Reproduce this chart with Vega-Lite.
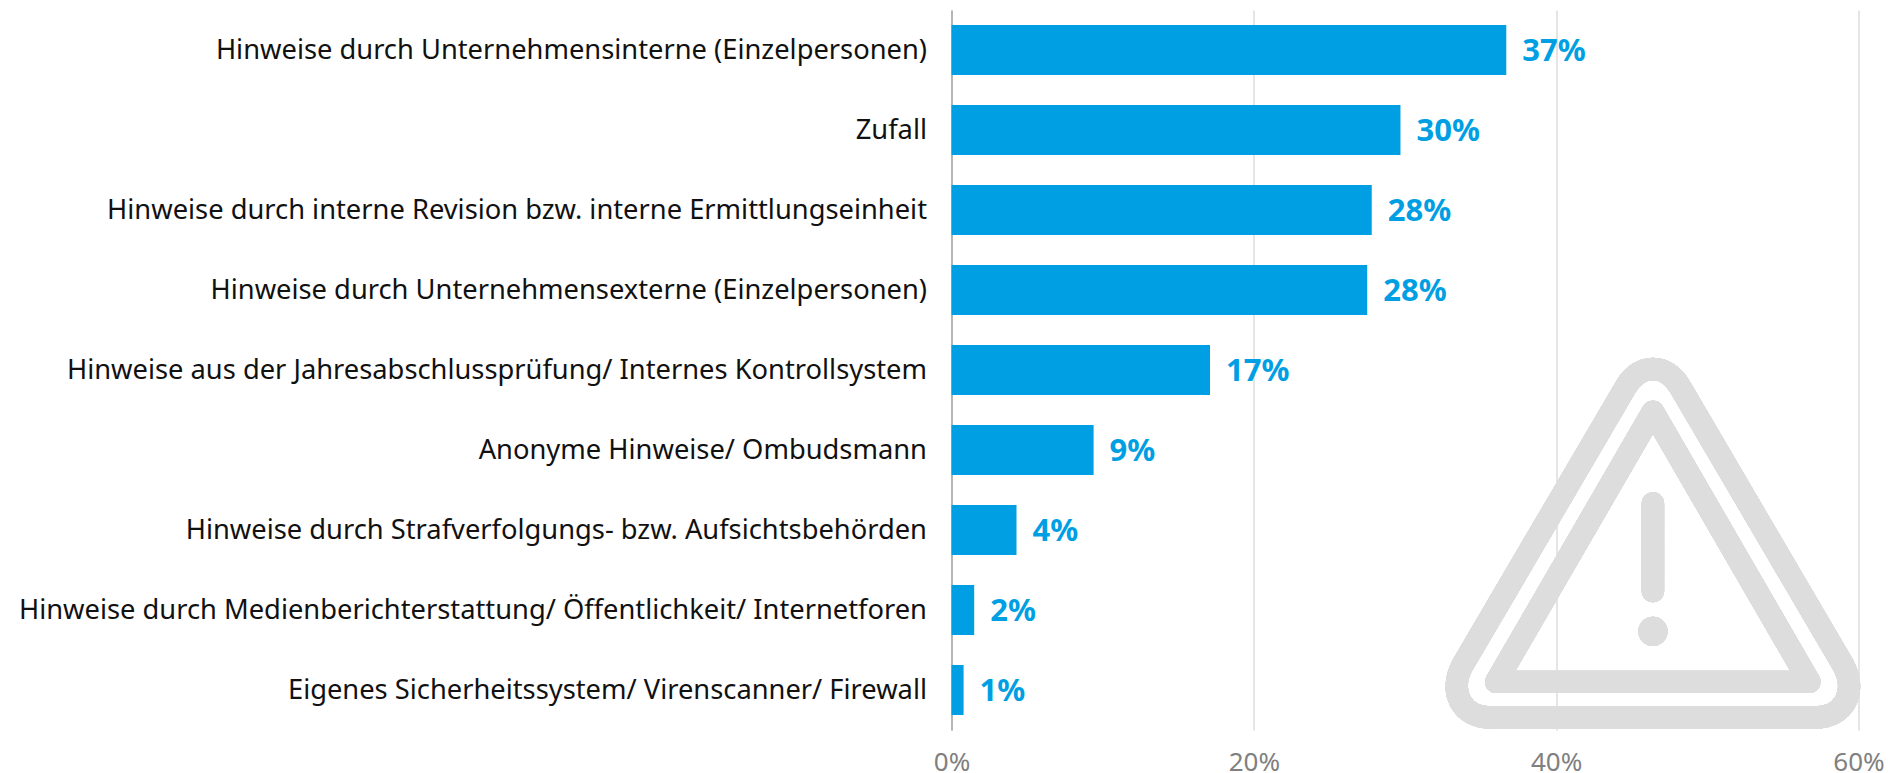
{
  "$schema": "https://vega.github.io/schema/vega-lite/v6.json",
  "autosize": {"type": "none"},
  "width": 907,
  "height": 720,
  "padding": {"left": 951.5, "top": 10, "right": 29.5, "bottom": 43},
  "background": "white",
  "config": {"view": {"stroke": null}, "font": "Noto Sans"},
  "data": {"values": [
    {"kategorie": "Hinweise durch Unternehmensinterne (Einzelpersonen)", "wert": 36.7, "label": "37%"},
    {"kategorie": "Zufall", "wert": 29.7, "label": "30%"},
    {"kategorie": "Hinweise durch interne Revision bzw. interne Ermittlungseinheit", "wert": 27.8, "label": "28%"},
    {"kategorie": "Hinweise durch Unternehmensexterne (Einzelpersonen)", "wert": 27.5, "label": "28%"},
    {"kategorie": "Hinweise aus der Jahresabschlussprüfung/ Internes Kontrollsystem", "wert": 17.1, "label": "17%"},
    {"kategorie": "Anonyme Hinweise/ Ombudsmann", "wert": 9.4, "label": "9%"},
    {"kategorie": "Hinweise durch Strafverfolgungs- bzw. Aufsichtsbehörden", "wert": 4.3, "label": "4%"},
    {"kategorie": "Hinweise durch Medienberichterstattung/ Öffentlichkeit/ Internetforen", "wert": 1.5, "label": "2%"},
    {"kategorie": "Eigenes Sicherheitssystem/ Virenscanner/ Firewall", "wert": 0.8, "label": "1%"}
  ]},
  "encoding": {
    "y": {
      "field": "kategorie",
      "type": "nominal",
      "sort": null,
      "title": null,
      "scale": {
        "domain": [
          "Hinweise durch Unternehmensinterne (Einzelpersonen)",
          "Zufall",
          "Hinweise durch interne Revision bzw. interne Ermittlungseinheit",
          "Hinweise durch Unternehmensexterne (Einzelpersonen)",
          "Hinweise aus der Jahresabschlussprüfung/ Internes Kontrollsystem",
          "Anonyme Hinweise/ Ombudsmann",
          "Hinweise durch Strafverfolgungs- bzw. Aufsichtsbehörden",
          "Hinweise durch Medienberichterstattung/ Öffentlichkeit/ Internetforen",
          "Eigenes Sicherheitssystem/ Virenscanner/ Firewall"
        ],
        "paddingInner": 0.375,
        "paddingOuter": 0.1875
      },
      "axis": {
        "ticks": false,
        "labelFontSize": 27.3,
        "labelColor": "#111111",
        "labelPadding": 25,
        "labelOffset": 1,
        "labelLimit": 1000,
        "domainColor": "#a6a6a6",
        "domainWidth": 1.5,
        "grid": false
      }
    },
    "x": {
      "field": "wert",
      "type": "quantitative",
      "title": null,
      "scale": {"domain": [0, 60], "nice": false},
      "axis": {
        "values": [0, 20, 40, 60],
        "labelExpr": "datum.value + '%'",
        "domain": false,
        "ticks": false,
        "grid": true,
        "gridColor": "#dcdcdc",
        "gridWidth": 1.5,
        "labelFontSize": 26,
        "labelColor": "#808080",
        "labelPadding": 19,
        "labelFlush": false
      }
    }
  },
  "layer": [
    {
      "mark": {
        "type": "point",
        "filled": false,
        "opacity": 1,
        "stroke": "#dddddd",
        "strokeWidth": 22.4,
        "strokeJoin": "round",
        "strokeCap": "round",
        "size": 4,
        "shape": "M -163 187.4 L 163 187.4 C 190 187.4 205 163 190.5 135.4 L 27.2 -143 C 13.3 -167 -13.3 -167 -27.2 -143 L -190.5 135.4 C -205 163 -190 187.4 -163 187.4 Z M 0 -118.3 L 156.5 151.9 L -156.7 151.9 Z M 0 -26.6 L 0 61"
      },
      "encoding": {
        "x": {"datum": 46.4, "type": "quantitative"},
        "y": {"datum": "Hinweise durch Strafverfolgungs- bzw. Aufsichtsbehörden", "type": "nominal"}
      }
    },
    {
      "mark": {
        "type": "point",
        "filled": true,
        "opacity": 1,
        "color": "#dddddd",
        "shape": "circle",
        "size": 853,
        "yOffset": 101.4
      },
      "encoding": {
        "x": {"datum": 46.4, "type": "quantitative"},
        "y": {"datum": "Hinweise durch Strafverfolgungs- bzw. Aufsichtsbehörden", "type": "nominal"}
      }
    },
    {
      "mark": {"type": "bar", "color": "#009fe3", "clip": false}
    },
    {
      "mark": {"type": "text", "align": "left", "baseline": "middle", "dx": 16, "dy": 2, "fontSize": 31, "fontWeight": "bold", "color": "#009fe3"},
      "encoding": {"text": {"field": "label", "type": "nominal"}}
    }
  ]
}
